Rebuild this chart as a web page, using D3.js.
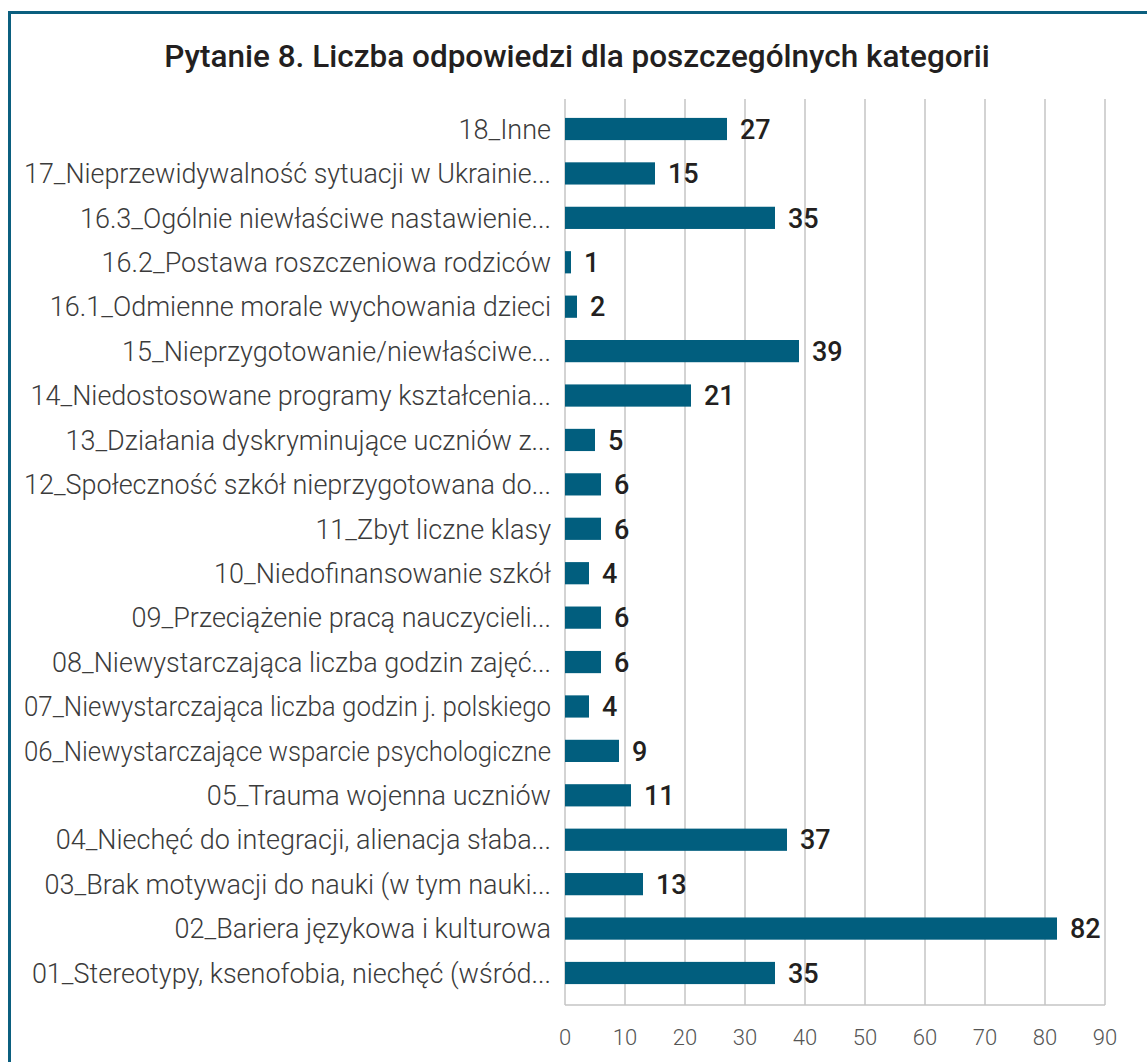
<!DOCTYPE html>
<meta charset="utf-8">
<head>
<style>
body { margin: 0; background: #fff; }
.grid line { stroke: #c4c4c4; stroke-width: 1.5px; }
.cat { font: 300 27px Roboto, sans-serif; fill: #3b3b3b; }
.val { font: 500 27px Roboto, sans-serif; fill: #231f20; }
.tick { font: 300 22px Roboto, sans-serif; fill: #555; }
.title { font: 500 31.5px Roboto, sans-serif; fill: #231f20; }
</style>
</head>
<body>
<svg width="1147" height="1062"></svg>
<script src="https://d3js.org/d3.v7.min.js"></script>
<script>
// categories top to bottom, as shown
var categories = [
  "18_Inne",
  "17_Nieprzewidywalność sytuacji w Ukrainie...",
  "16.3_Ogólnie niewłaściwe nastawienie...",
  "16.2_Postawa roszczeniowa rodziców",
  "16.1_Odmienne morale wychowania dzieci",
  "15_Nieprzygotowanie/niewłaściwe...",
  "14_Niedostosowane programy kształcenia...",
  "13_Działania dyskryminujące uczniów z...",
  "12_Społeczność szkół nieprzygotowana do...",
  "11_Zbyt liczne klasy",
  "10_Niedofinansowanie szkół",
  "09_Przeciążenie pracą nauczycieli...",
  "08_Niewystarczająca liczba godzin zajęć...",
  "07_Niewystarczająca liczba godzin j. polskiego",
  "06_Niewystarczające wsparcie psychologiczne",
  "05_Trauma wojenna uczniów",
  "04_Niechęć do integracji, alienacja słaba...",
  "03_Brak motywacji do nauki (w tym nauki...",
  "02_Bariera językowa i kulturowa",
  "01_Stereotypy, ksenofobia, niechęć (wśród..."
];
var values = [27, 15, 35, 1, 2, 39, 21, 5, 6, 6, 4, 6, 6, 4, 9, 11, 37, 13, 82, 35];
var ticks = [0, 10, 20, 30, 40, 50, 60, 70, 80, 90];
var title = "Pytanie 8. Liczba odpowiedzi dla poszczególnych kategorii";

var svg = d3.select("svg");
var barColor = "#015e7e";

// frame (runs off the right and bottom edges)
svg.append("rect")
  .attr("x", 9.5).attr("y", 12.5)
  .attr("width", 1200).attr("height", 1100)
  .attr("fill", "none")
  .attr("stroke", "#0b5f7f")
  .attr("stroke-width", 3);

svg.append("text")
  .attr("class", "title")
  .attr("x", 577).attr("y", 67)
  .attr("text-anchor", "middle")
  .text(title);

var x = d3.scaleLinear().domain([0, 90]).range([565, 1105]);
var y = d3.scaleBand()
  .domain(categories)
  .range([106.8, 995.2])
  .paddingInner(0.5)
  .paddingOuter(0.25);

var gridTop = 99, gridBottom = 1005;

var grid = svg.append("g").attr("class", "grid");
grid.selectAll("line.v")
  .data(ticks)
  .enter().append("line")
  .attr("class", "v")
  .attr("x1", function(d) { return x(d); })
  .attr("x2", function(d) { return x(d); })
  .attr("y1", gridTop)
  .attr("y2", gridBottom);
grid.append("line")
  .attr("x1", x(0)).attr("x2", x(90))
  .attr("y1", gridBottom).attr("y2", gridBottom);

// tick labels
svg.append("g").selectAll("text")
  .data(ticks)
  .enter().append("text")
  .attr("class", "tick")
  .attr("x", function(d) { return x(d); })
  .attr("y", 1045)
  .attr("text-anchor", "middle")
  .text(function(d) { return d; });

// bars
svg.append("g").selectAll("rect")
  .data(values)
  .enter().append("rect")
  .attr("x", x(0))
  .attr("y", function(d, i) { return y(categories[i]); })
  .attr("width", function(d) { return x(d) - x(0); })
  .attr("height", y.bandwidth())
  .attr("fill", barColor);

// category labels, squeezed a little if they would run into the frame
var maxLabel = 527;
svg.append("g").selectAll("text")
  .data(categories)
  .enter().append("text")
  .attr("class", "cat")
  .attr("x", 551)
  .attr("y", function(d) { return y(d) + y.bandwidth() / 2; })
  .attr("dy", "0.36em")
  .attr("text-anchor", "end")
  .text(function(d) { return d; })
  .each(function() {
    if (this.getComputedTextLength() > maxLabel) {
      d3.select(this)
        .attr("textLength", maxLabel)
        .attr("lengthAdjust", "spacingAndGlyphs");
    }
  });

// value labels
svg.append("g").selectAll("text")
  .data(values)
  .enter().append("text")
  .attr("class", "val")
  .attr("x", function(d) { return x(d) + 13; })
  .attr("y", function(d, i) { return y(categories[i]) + y.bandwidth() / 2; })
  .attr("dy", "0.36em")
  .text(function(d) { return d; });
</script>
</body>
